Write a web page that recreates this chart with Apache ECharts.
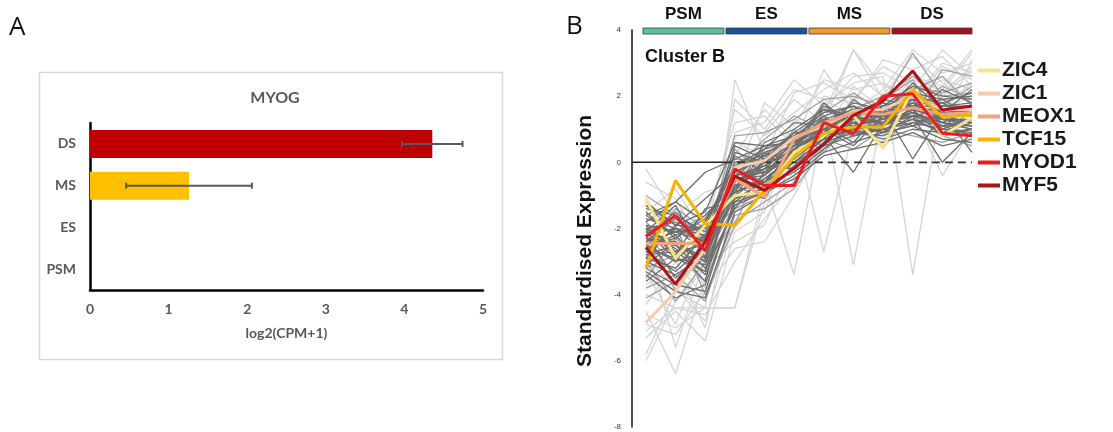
<!DOCTYPE html>
<html>
<head>
<meta charset="utf-8">
<script src="https://cdn.jsdelivr.net/npm/echarts@6/dist/echarts.min.js"></script>
<style>
html,body{margin:0;padding:0;background:#fff;}
#c{width:1113px;height:432px;}
</style>
</head>
<body>
<div id="c"></div>
<script>
// ---------- Panel A data ----------
const catsA = ['PSM', 'ES', 'MS', 'DS'];
const valsA = [0, 0, 1.26, 4.355];
const errLowA = [null, null, 0.46, 3.97];
const errHighA = [null, null, 2.06, 4.74];
const ticksA = [0, 1, 2, 3, 4, 5];

// ---------- Panel B data ----------
const timePoints = ['PSM1','PSM2','PSM3','ES1','ES2','ES3','MS1','MS2','MS3','DS1','DS2','DS3'];
const stages = ['PSM', 'ES', 'MS', 'DS'];
const stageStart = [-0.10, 2.70, 5.50, 8.30];
const stageEnd = [2.63, 5.43, 8.23, 11.0];
const zeroSplit = 2.63;

const geneNames = ['ZIC4', 'ZIC1', 'MEOX1', 'TCF15', 'MYOD1', 'MYF5'];
const ZIC4  = [-1.1,-2.9,-1.9,-1.0,-0.9, 0.3, 0.8, 1.4, 0.45, 2.2, 0.8, 1.35];
const ZIC1  = [-4.85,-3.9,-2.6,-0.15, 0.05, 0.75, 1.1, 1.55, 1.6, 2.0, 1.6, 1.6];
const MEOX1 = [-2.45,-2.45,-2.45,-0.5,-1.05, 0.7, 1.2, 1.5, 1.45, 1.65, 1.45, 1.5];
const TCF15 = [-3.2,-0.55,-1.86,-1.9,-0.85, 0.16, 0.87, 1.07, 1.07, 2.2, 1.37, 1.42];
const MYOD1 = [-2.24,-1.61,-2.67,-0.2,-0.7,-0.7, 1.2, 0.87, 2.0, 2.07, 0.88, 0.8];
const MYF5  = [-2.57,-3.68,-2.4,-0.42,-0.85,-0.18, 0.55, 1.42, 1.86, 2.76, 1.58, 1.7];

const grayDark = [
 [-2.0,-1.8,-2.6,-0.4,-0.1,0.4,1.0,1.2,1.3,1.7,1.5,1.4],
 [-2.6,-2.9,-3.1,-0.9,-0.5,0.1,0.8,1.0,1.1,1.5,1.2,1.1],
 [-1.6,-2.2,-1.9,-0.2,0.3,0.6,1.3,1.1,1.6,1.9,1.7,1.8],
 [-3.0,-3.4,-2.8,-1.1,-0.8,-0.2,0.5,0.8,1.0,1.3,0.9,1.0],
 [-2.2,-1.5,-2.3,-0.6,-0.2,0.2,1.1,1.4,1.2,1.8,1.4,1.6],
 [-1.3,-1.9,-1.1,-0.3,0.2,0.9,1.5,1.7,1.4,2.1,1.9,2.0],
 [-2.8,-2.5,-3.4,-1.3,-0.9,-0.4,0.3,0.6,0.9,1.1,0.7,0.6],
 [-2.4,-2.1,-2.0,0.2,-0.3,0.5,0.9,1.2,1.5,1.6,1.3,1.2],
 [-1.9,-2.7,-2.5,-0.8,0.0,0.3,1.8,1.0,1.2,1.4,1.6,1.5],
 [-3.3,-3.9,-4.1,-1.5,-1.0,-0.1,0.6,0.9,0.8,1.2,1.0,0.9],
 [-2.1,-1.3,-2.9,-0.5,0.4,0.7,1.2,1.5,1.7,2.3,2.0,1.9],
 [-2.5,-2.3,-1.6,-0.7,-0.6,0.0,0.7,1.9,1.3,1.5,1.1,1.3],
 [-1.7,-2.0,-2.4,0.5,0.1,0.8,1.4,0.8,1.0,1.2,1.4,1.7],
 [-2.9,-3.2,-2.2,-1.0,-0.4,0.4,0.9,1.3,1.9,1.7,1.2,1.0],
 [-2.3,-2.6,-3.6,-0.3,-0.7,-0.3,0.4,1.1,1.1,2.0,1.5,1.4],
 [-1.4,-1.6,-2.1,-0.9,0.6,1.0,1.6,1.4,1.2,1.6,1.8,2.1],
 [-2.7,-2.0,-2.7,-0.4,-0.2,0.6,1.0,0.5,1.4,1.4,1.3,1.1],
 [-2.0,-2.8,-1.4,-1.2,-0.5,0.2,0.7,1.0,0.7,1.0,0.9,1.2],
 [-3.1,-2.4,-3.0,0.0,0.2,0.5,1.3,1.6,1.5,2.4,1.6,1.6],
 [-2.2,-3.5,-2.6,-0.6,-0.1,-0.2,0.6,1.3,1.8,1.5,2.2,1.8],
 [-1.8,-1.2,-1.8,-0.1,0.4,1.2,1.1,1.8,1.6,1.8,1.4,1.5],
 [-2.6,-2.2,-3.2,-1.4,-0.3,0.1,1.0,0.9,1.0,1.3,1.1,0.8],
 [-3.6,-2.9,-2.3,-0.7,-1.1,0.3,0.8,1.1,1.3,1.9,1.0,1.3],
 [-2.4,-1.7,-2.5,0.3,0.0,0.5,1.6,1.2,0.9,1.7,1.7,1.7],
 [-1.5,-2.3,-1.7,-0.5,-0.4,0.7,1.2,1.5,1.4,1.1,1.5,2.2],
 [-2.9,-1.9,-2.0,-0.8,0.3,0.0,0.5,1.4,1.6,2.2,1.3,1.2],
 [-2.0,-2.5,-3.0,-0.2,-0.6,0.4,1.4,1.7,1.1,1.6,0.8,1.0],
 [-2.5,-3.0,-2.7,-1.0,0.1,0.9,0.9,1.0,1.7,2.0,1.8,1.4],
 [-1.2,-1.9,-1.5,0.6,0.5,0.6,1.7,1.3,1.2,1.5,1.2,1.6],
 [-3.4,-4.1,-3.7,-1.2,-0.9,-0.5,0.2,0.4,0.6,0.9,0.5,0.7],
 [-2.2,-2.0,-2.2,-0.6,0.0,0.6,1.1,0.6,1.6,0.1,1.5,0.3],
 [-2.7,-3.3,-2.5,-0.4,-0.8,0.2,0.8,-0.3,1.2,1.4,0.0,0.9],
 [-1.6,-1.2,-0.3,0.1,0.5,0.8,1.2,1.6,1.3,1.9,1.6,1.7],
 [-2.3,-2.4,-2.9,-0.5,-0.3,0.5,1.2,1.3,1.4,1.8,1.3,1.3],
 [-1.9,-2.1,-2.4,-0.3,0.1,0.7,1.0,1.5,1.6,1.6,1.5,1.6],
 [-2.8,-2.7,-2.2,-0.9,-0.6,0.3,0.9,1.2,1.2,2.1,1.4,1.2],
 [-2.1,-2.9,-3.3,-0.7,-0.2,0.1,1.3,1.0,1.5,1.7,1.9,1.4],
 [-3.2,-3.7,-3.9,-1.1,-0.6,0.0,0.7,1.1,0.9,1.4,1.1,1.1]
];
const grayMid = [
 [-3.0,-4.2,-3.0,-1.8,-1.2,-0.6,0.6,0.9,1.2,1.6,1.4,1.2],
 [-1.0,-1.6,-2.4,0.8,0.9,1.3,1.9,2.0,1.7,2.3,2.1,2.4],
 [-3.8,-3.4,-4.2,-1.6,-1.4,-0.8,0.4,1.0,0.6,1.4,0.8,0.5],
 [-2.3,-3.0,-1.8,-0.2,0.7,1.4,1.0,1.6,2.0,2.6,1.9,2.0],
 [-1.8,-2.7,-3.3,0.4,-0.4,0.3,1.5,2.1,1.5,1.7,2.3,1.9],
 [-4.1,-3.6,-2.9,-1.3,-0.7,0.2,0.7,0.4,1.0,0.8,0.6,0.9],
 [-2.6,-1.4,-2.0,-0.9,0.2,-0.2,1.3,0.9,1.9,2.5,1.0,1.5],
 [-3.2,-2.8,-3.6,0.1,0.0,0.9,0.5,1.7,1.4,1.9,1.7,2.3],
 [-2.0,-3.9,-2.2,-1.4,-1.0,0.4,1.1,1.4,0.9,1.1,1.2,0.8],
 [-3.5,-2.3,-3.0,-0.5,0.5,0.6,1.8,1.1,1.3,2.2,2.6,1.7],
 [-1.3,-2.1,-1.6,-0.7,-0.2,1.0,0.3,1.3,1.8,3.3,2.0,2.1],
 [-2.9,-1.9,-4.0,-1.9,0.3,-0.3,1.0,0.8,1.1,1.4,2.8,2.6]
];
const grayLight = [
 [-5.8,-3.9,-4.4,2.5,0.3,0.8,1.5,3.4,1.9,2.0,2.5,2.2],
 [-4.5,-6.4,-3.5,-1.5,-0.6,-3.4,1.3,1.2,1.8,2.6,2.3,3.4],
 [-5.3,-4.5,-5.4,-2.1,-1.5,0.9,-2.7,1.0,1.4,1.8,2.9,2.5],
 [-0.2,-1.6,-0.9,-0.6,1.8,1.1,2.5,2.2,2.4,1.9,3.0,2.7],
 [-4.0,-4.4,-4.4,-4.4,-1.2,0.5,1.4,-3.1,1.6,1.3,1.9,1.5],
 [-3.3,-4.9,-2.6,0.9,1.2,2.5,1.7,2.4,2.6,-3.4,2.0,2.8],
 [-1.5,-0.8,-2.2,1.6,0.8,1.5,2.2,2.7,2.0,3.2,2.4,1.8],
 [-4.9,-5.2,-3.9,-2.6,-2.4,-1.0,0.6,2.0,0.8,2.3,1.2,3.1],
 [-2.9,-3.8,-4.8,-1.8,-0.3,-0.4,2.0,1.8,3.1,2.8,3.2,2.3],
 [-1.1,-2.4,-1.8,1.2,1.4,0.5,2.8,1.5,2.2,3.4,2.7,3.0],
 [-6.0,-4.2,-3.2,-2.4,-1.9,0.2,1.1,1.3,0.4,1.6,1.0,1.3],
 [-3.7,-3.2,-5.0,-0.9,0.9,1.9,1.2,3.4,2.3,2.1,1.6,2.0],
 [-2.4,-5.6,-2.9,-2.0,-0.7,1.3,0.9,2.3,1.6,2.5,2.2,3.3],
 [-4.3,-3.0,-4.1,0.2,1.6,0.7,1.6,2.6,2.7,2.2,3.4,2.6],
 [-0.6,-1.1,-2.7,0.6,0.2,2.1,2.4,1.9,2.9,2.4,1.7,2.4],
 [-5.1,-4.4,-4.6,-3.0,-1.7,-0.6,0.4,1.2,1.1,1.5,-0.4,1.0],
 [-3.1,-2.2,-3.8,1.9,1.0,2.2,1.9,1.4,1.9,2.7,2.1,2.9],
 [-4.6,-5.0,-4.4,-4.4,-0.8,0.0,1.0,0.7,2.1,1.1,1.8,1.6]
];

// ---------- styles ----------
const barColorsA = ['#c00000', '#c00000', '#ffc000', '#c00000'];
const stageColors = ['#5cc3a0', '#1f4f9c', '#f39a2c', '#a3131f'];
const geneColors = ['#f7e38c', '#f6cbb0', '#f2a47e', '#f4b400', '#ee1c1c', '#b0121a'];
const FB = '"Liberation Sans", Arial, sans-serif';
const FA = 'Lato, "Open Sans", sans-serif';
const X0 = -0.47;

function toXY(arr) { return arr.map((v, i) => [i, v]); }

const series = [];
// Panel A bars
series.push({
  type: 'bar', xAxisIndex: 0, yAxisIndex: 0, barWidth: 28, silent: true,
  data: valsA.map((v, i) => ({ value: v, itemStyle: { color: barColorsA[i] } })),
  z: 2
});
// Panel A error bars
series.push({
  type: 'custom', xAxisIndex: 0, yAxisIndex: 0, silent: true, z: 5,
  data: catsA.map((c, i) => [errLowA[i], errHighA[i], i]).filter(d => d[0] !== null),
  renderItem: function (params, api) {
    const p1 = api.coord([api.value(0), api.value(2)]);
    const p2 = api.coord([api.value(1), api.value(2)]);
    const st = { stroke: '#595959', lineWidth: 2 };
    return { type: 'group', children: [
      { type: 'line', shape: { x1: p1[0], y1: p1[1], x2: p2[0], y2: p2[1] }, style: st },
      { type: 'line', shape: { x1: p1[0], y1: p1[1] - 3, x2: p1[0], y2: p1[1] + 3 }, style: st },
      { type: 'line', shape: { x1: p2[0], y1: p2[1] - 3, x2: p2[0], y2: p2[1] + 3 }, style: st }
    ]};
  }
});

function addGray(list, color, z) {
  list.forEach(arr => series.push({
    type: 'line', xAxisIndex: 1, yAxisIndex: 1, data: toXY(arr), symbol: 'none',
    silent: true, lineStyle: { color: color, width: 1.3 }, z: z, animation: false
  }));
}
addGray(grayLight, '#d4d4d4', 1);
addGray(grayMid, '#a0a0a0', 2);
addGray(grayDark, '#6d6d6d', 3);

// zero line
series.push({ type: 'line', xAxisIndex: 1, yAxisIndex: 1, symbol: 'none', silent: true, z: 4,
  data: [[X0, 0], [zeroSplit, 0]], lineStyle: { color: '#222', width: 1.5 } });
series.push({ type: 'line', xAxisIndex: 1, yAxisIndex: 1, symbol: 'none', silent: true, z: 4,
  data: [[zeroSplit, 0], [11, 0]], lineStyle: { color: '#333', width: 1.8, type: [8, 5] } });

const geneData = [ZIC4, ZIC1, MEOX1, TCF15, MYOD1, MYF5];
const geneZ = [6, 6, 7, 8, 10, 9];
geneNames.forEach((g, i) => series.push({
  name: g, type: 'line', xAxisIndex: 1, yAxisIndex: 1, data: toXY(geneData[i]), symbol: 'none',
  silent: true, z: geneZ[i], lineStyle: { color: geneColors[i], width: 3 }, itemStyle: { color: geneColors[i] }
}));

// stage header
series.push({
  type: 'custom', xAxisIndex: 2, yAxisIndex: 2, silent: true, z: 10,
  data: stages.map((s, i) => [stageStart[i], stageEnd[i], i]),
  renderItem: function (params, api) {
    const a = api.coord([api.value(0), 1]);
    const b = api.coord([api.value(1), 0]);
    const idx = api.value(2);
    return { type: 'group', children: [
      { type: 'rect', shape: { x: a[0], y: a[1], width: b[0] - a[0], height: b[1] - a[1] },
        style: { fill: stageColors[idx], stroke: '#3a3a3a', lineWidth: 0.8 } },
      { type: 'text', style: { text: stages[idx], x: (a[0] + b[0]) / 2, y: a[1] - 14,
        align: 'center', verticalAlign: 'middle', fontFamily: FB, fontWeight: 'bold', fontSize: 17, fill: '#111' } }
    ]};
  }
});

const option = {
  backgroundColor: '#fff',
  animation: false,
  title: [
    { text: 'MYOG', left: 270, top: 85, textAlign: 'center',
      textStyle: { fontFamily: FA, fontWeight: 'bold', fontSize: 16, color: '#595959' } },
    { text: 'Cluster B', left: 645, top: 48, padding: 0,
      textStyle: { fontFamily: FB, fontWeight: 'bold', fontSize: 18, color: '#111' } }
  ],
  legend: {
    data: geneNames, orient: 'vertical', left: 978, top: 60, padding: 0,
    icon: 'rect', itemWidth: 22, itemHeight: 4, itemGap: 2,
    textStyle: { fontFamily: FB, fontWeight: 'bold', fontSize: 21, lineHeight: 21, color: '#1a1a1a', padding: [0, 0, 0, -3] },
    selectedMode: false
  },
  grid: [
    { left: 90, top: 123, width: 393, height: 167 },
    { left: 632, top: 30, width: 340, height: 397 },
    { left: 632, top: 28, width: 340, height: 6 }
  ],
  xAxis: [
    { gridIndex: 0, type: 'value', min: 0, max: 5, interval: 1,
      axisLine: { show: true, lineStyle: { color: '#000', width: 2.5 } },
      axisTick: { show: false }, splitLine: { show: false },
      axisLabel: { color: '#595959', fontFamily: FA, fontWeight: 'bold', fontSize: 14, margin: 12,
        formatter: v => ticksA.indexOf(v) >= 0 ? String(v) : '' },
      name: 'log2(CPM+1)', nameLocation: 'middle', nameGap: 36,
      nameTextStyle: { color: '#595959', fontFamily: FA, fontWeight: 'bold', fontSize: 14 } },
    { gridIndex: 1, type: 'value', min: X0, max: 11, show: false },
    { gridIndex: 2, type: 'value', min: X0, max: 11, show: false }
  ],
  yAxis: [
    { gridIndex: 0, type: 'category', data: catsA,
      axisLine: { show: true, lineStyle: { color: '#000', width: 2.5 } },
      axisTick: { show: false },
      axisLabel: { color: '#595959', fontFamily: FA, fontWeight: 'bold', fontSize: 14, margin: 14 } },
    { gridIndex: 1, type: 'value', min: -8, max: 4, interval: 2,
      axisLine: { show: true, onZero: false, lineStyle: { color: '#111', width: 1.5 } },
      axisTick: { show: false }, splitLine: { show: false },
      axisLabel: { color: '#333', fontFamily: FB, fontSize: 8, margin: 11 } },
    { gridIndex: 2, type: 'value', min: 0, max: 1, show: false }
  ],
  graphic: [
    { type: 'rect', shape: { x: 39.5, y: 72.5, width: 463, height: 287 }, silent: true,
      style: { fill: 'none', stroke: '#d9d9d9', lineWidth: 1.5 }, z: -1 },
    { type: 'text', left: 9, top: 15, silent: true,
      style: { text: 'A', fontFamily: '"Open Sans", sans-serif', fontSize: 26, fill: '#111' } },
    { type: 'text', left: 566, top: 14, silent: true,
      style: { text: 'B', fontFamily: '"Open Sans", sans-serif', fontSize: 26, fill: '#111' } },
    { type: 'text', x: 585, y: 241, rotation: Math.PI / 2, silent: true,
      style: { text: 'Standardised Expression', fontFamily: FB, fontWeight: 'bold', fontSize: 21,
        fill: '#111', align: 'center', verticalAlign: 'middle' } }
  ],
  series: series
};

const chart = echarts.init(document.getElementById('c'), null, { renderer: 'canvas' });
chart.setOption(option);
</script>
</body>
</html>
